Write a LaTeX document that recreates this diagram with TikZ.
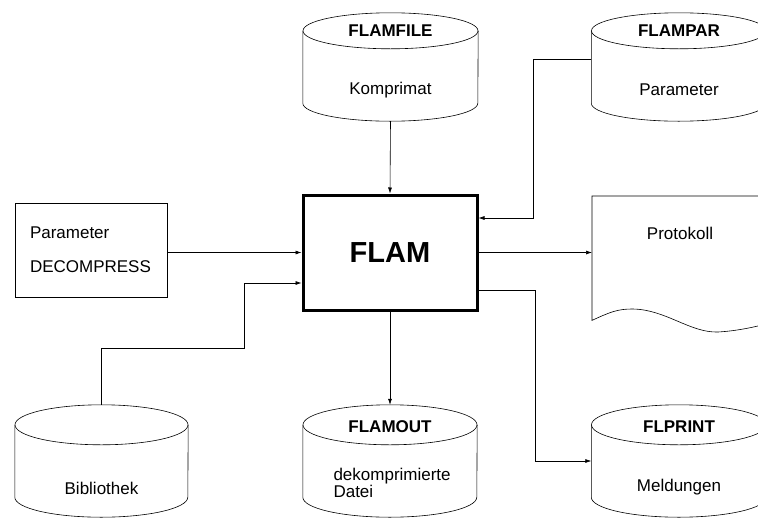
\documentclass[tikz,border=0pt]{standalone}
\usepackage{fontspec}
\setmainfont{Liberation Sans}
\usetikzlibrary{arrows.meta,calc}

% outline of a data store round node #1, x radius #2, y radius #3
\newcommand\storeshape[3]{%
  \draw[line width=0.6pt] ($(#1.north)+(0,#3)$) ellipse [x radius=#2pt, y radius=#3pt];
  \draw[line width=0.6pt] ($(#1.north west)+(0,#3)$) -- ($(#1.south west)+(0,-#3)$)
    arc [start angle=180, end angle=360, x radius=#2pt, y radius=#3pt] -- ($(#1.north east)+(0,#3)$);}

\begin{document}
\begin{tikzpicture}[x=1pt,y=-1pt,
  every node/.style={font=\fontsize{17}{20}\selectfont},
  store/.style={rectangle,minimum width=175pt,minimum height=108pt,inner sep=0pt},
  title/.style={font=\fontsize{17}{20}\selectfont\bfseries},
  conn/.style={draw,line width=0.6pt,-{Latex[length=6pt,width=4pt]}}]
\useasboundingbox (0,0) rectangle (758,520);
\clip (0,0) rectangle (758,520);

% data stores
\node[store] (flamfile) at (390.5,67) {};
\storeshape{flamfile}{87.5}{18}
\node[title] (flamfile-t) at ($(flamfile.north)+(0,18)$) {FLAMFILE};
\node (flamfile-b) at ($(flamfile.center)+(0,23)$) {Komprimat};

\node[store] (flampar) at (679,67) {};
\storeshape{flampar}{87.5}{18}
\node[title] (flampar-t) at ($(flampar.north)+(0,18)$) {FLAMPAR};
\node (flampar-b) at ($(flampar.center)+(0,23)$) {Parameter};

\node[store,minimum width=173pt,minimum height=112pt] (bib) at (101.5,461) {};
\storeshape{bib}{86.5}{20}
\node (bib-b) at ($(bib.center)+(0,27)$) {Bibliothek};

\node[store,minimum width=174pt,minimum height=112pt] (flamout) at (390,461) {};
\storeshape{flamout}{87}{20}
\node[title] (flamout-t) at ($(flamout.north)+(0,22)$) {FLAMOUT};
\node[align=left,anchor=west,font=\fontsize{17}{17}\selectfont] (flamout-b) at (330,483) {dekomprimierte\\Datei};

\node[store,minimum width=175pt,minimum height=112pt] (flprint) at (679,461) {};
\storeshape{flprint}{87.5}{20}
\node[title] (flprint-t) at ($(flprint.north)+(0,22)$) {FLPRINT};
\node (flprint-b) at ($(flprint.center)+(0,26)$) {Meldungen};

% main box and input
\node[draw,line width=3pt,minimum width=174pt,minimum height=115pt,
  font=\fontsize{29}{34}\selectfont\bfseries] (flam) at (390,252.5) {FLAM};
\node[draw,line width=0.6pt,minimum width=152pt,minimum height=94pt,
  align=left,text width=122pt] (decomp) at (91,250) {Parameter\\[14pt]DECOMPRESS};

% listing
\node[minimum width=170pt,minimum height=124pt,anchor=north west,inner sep=0pt] (prot) at (592,196) {};
\draw[line width=0.6pt] ($(prot.south east)+(0,5)$) -- (prot.north east) -- (prot.north west)
  -- (prot.south west) .. controls (610,312) and (618,309) .. (632,309)
  .. controls (665,309) and (690,333) .. (718,332) .. controls (735,331) and (750,328) .. (762,325);
\node (prot-t) at (680,233) {Protokoll};

% connectors
\draw[conn] (flamfile.south) -- (flam.north);
\draw[conn] ([yshift=8pt]flampar.west) -- ++(-58,0) |- ([yshift=34.5pt]flam.east);
\draw[conn] (decomp.east |- flam.west) -- (flam.west);
\draw[conn] (bib.north) -- ++(0,-57) -| ($([yshift=-30.5pt]flam.west)+(-57,0)$) -- ([yshift=-30.5pt]flam.west);
\draw[conn] (flam.south) -- (flamout.north);
\draw[conn] (flam.east) -- (flam.east -| prot.west);
\draw[conn] ([yshift=-37.5pt]flam.east) -- ++(57,0) |- (flprint.west);
\end{tikzpicture}
\end{document}
